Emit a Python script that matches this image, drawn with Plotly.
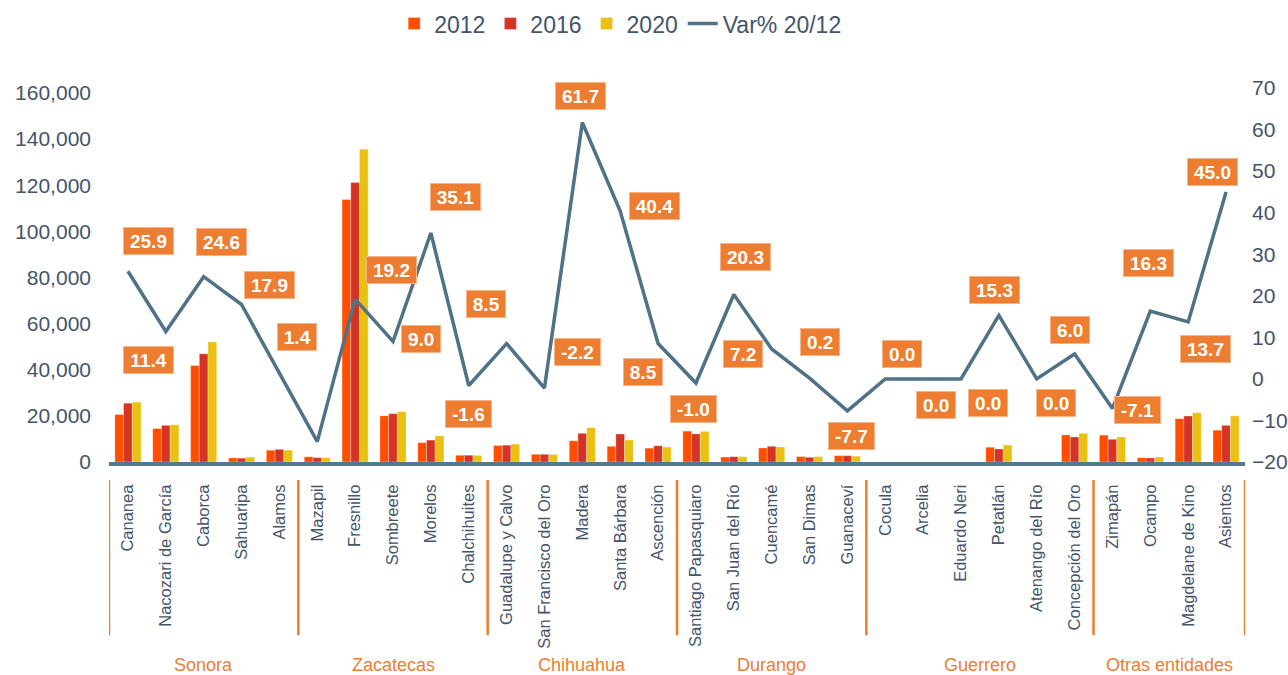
import plotly.graph_objects as go

# Municipalities grouped by state
states = ["Sonora", "Zacatecas", "Chihuahua", "Durango", "Guerrero", "Otras entidades"]
municipios = [
    ["Cananea", "Nacozari de García", "Caborca", "Sahuaripa", "Alamos"],
    ["Mazapil", "Fresnillo", "Sombreete", "Morelos", "Chalchihuites"],
    ["Guadalupe y Calvo", "San Francisco del Oro", "Madera", "Santa Bárbara", "Ascención"],
    ["Santiago Papasquiaro", "San Juan del Río", "Cuencamé", "San Dimas", "Guanaceví"],
    ["Cocula", "Arcelia", "Eduardo Neri", "Petatlán", "Atenango del Río", "Concepción del Oro"],
    ["Zimapán", "Ocampo", "Magdelane de Kino", "Asientos"],
]
categories = [m for grp in municipios for m in grp]

v2012 = [20600, 14500, 41800, 1800, 5100,
         2250, 113800, 20000, 8400, 2900,
         7150, 3350, 9200, 6800, 6000,
         13400, 2150, 6070, 2350, 2750,
         0, 0, 0, 6400, 0, 11750,
         11650, 1850, 18800, 13800]
v2016 = [25500, 15900, 46900, 1650, 5500,
         1900, 121200, 20950, 9500, 2950,
         7300, 3350, 12450, 12150, 7050,
         12200, 2300, 6800, 2050, 2740,
         0, 0, 0, 5650, 0, 10850,
         9850, 1750, 19950, 15900]
v2020 = [25950, 16150, 52080, 2120, 5170,
         1910, 135650, 21800, 11350, 2850,
         7760, 3280, 14880, 9550, 6510,
         13270, 2300, 6500, 2355, 2540,
         0, 0, 0, 7380, 0, 12450,
         10830, 2150, 21380, 20010]
var_pct = [25.9, 11.4, 24.6, 17.9, 1.4,
           -15.1, 19.2, 9.0, 35.1, -1.6,
           8.5, -2.2, 61.7, 40.4, 8.5,
           -1.0, 20.3, 7.2, 0.2, -7.7,
           0.0, 0.0, 0.0, 15.3, 0.0, 6.0,
           -7.1, 16.3, 13.7, 45.0]

left_ticks = [0, 20000, 40000, 60000, 80000, 100000, 120000, 140000, 160000]
right_ticks = [-20, -10, 0, 10, 20, 30, 40, 50, 60, 70]

# label placement relative to each point of the line (pixels: right, down); None = no label
label_offsets = [(21, -30), (-17, 28), (18, -35), (28, -20), (18, -36),
                 None, (36, -29), (28, -2), (25, -36), (0, 28),
                 (-21, -40), (33, -36), (-2, -26), (34, -5), (-15, 28),
                 (-2, 26), (12, -38), (-29, 5), (10, -36), (4, 25),
                 (17, -25), (13, 26), (27, 24), (-4, -25), (19, 24), (-5, -24),
                 (25, 2), (-2, -48), (17, 27), (-14, -20)]

C2012, C2016, C2020 = "#FF4E00", "#D53424", "#EAC112"
LINE = "#4F7286"
TEXT = "#44546A"
ORANGE = "#ED7D31"
FONT = "Liberation Sans, Arial, sans-serif"

fig = go.Figure()
for name, vals, col in [("2012", v2012, C2012), ("2016", v2016, C2016), ("2020", v2020, C2020)]:
    fig.add_trace(go.Bar(x=categories, y=vals, name=name, marker_color=col,
                         marker_line=dict(color="rgba(255,255,255,0.5)", width=0.6)))
fig.add_trace(go.Scatter(x=categories, y=var_pct, name="Var% 20/12", yaxis="y2",
                         mode="lines", line=dict(color=LINE, width=3.5)))


def text_width(s, size):
    w = {".": 0.278, "-": 0.333}
    return sum(w.get(ch, 0.556) for ch in s) * size


annotations = []
for cat, v, off in zip(categories, var_pct, label_offsets):
    if off is None:
        continue
    txt = f"{v:.1f}"
    annotations.append(dict(
        x=cat, y=v, xref="x", yref="y2", text=f"<b>{txt}</b>", showarrow=False,
        xshift=off[0], yshift=-off[1],
        font=dict(family=FONT, size=19, color="white"),
        bgcolor=ORANGE, bordercolor="#F5B48A", borderwidth=1, borderpad=2,
        width=text_width(txt, 19) + 8, height=22,
    ))

# state separators and state names under the category labels
shapes = []
start = 0
bounds = [-0.5]
for st, grp in zip(states, municipios):
    n = len(grp)
    annotations.append(dict(
        x=start + (n - 1) / 2, y=-0.543, xref="x", yref="paper", text=st,
        showarrow=False, font=dict(family=FONT, size=18, color=ORANGE),
        yanchor="middle"))
    start += n
    bounds.append(start - 0.5)
for b in bounds:
    shapes.append(dict(type="line", xref="x", yref="paper", x0=b, x1=b,
                       y0=-0.048, y1=-0.463, line=dict(color=ORANGE, width=2.5)))

fig.update_layout(
    width=1288, height=675,
    margin=dict(l=109, r=43, t=88, b=213, autoexpand=False),
    paper_bgcolor="white", plot_bgcolor="white",
    barmode="group", bargap=0.31, bargroupgap=0,
    font=dict(family=FONT, color=TEXT),
    legend=dict(orientation="h", x=0.45, xanchor="center", y=1.172, yanchor="middle",
                font=dict(size=23, color=TEXT), traceorder="normal", itemwidth=30),
    xaxis=dict(range=[-0.5, len(categories) - 0.5], tickangle=-90, automargin=False,
               tickfont=dict(size=16.5, color=TEXT), showline=True, linecolor="#56788C",
               linewidth=4, showgrid=False, ticks="", ticklabelstandoff=12),
    yaxis=dict(range=[0, 162170], tickvals=left_ticks, tickformat=",", showgrid=False,
               automargin=False, zeroline=False, tickfont=dict(size=21, color=TEXT),
               ticklabelstandoff=17),
    yaxis2=dict(range=[-20, 70], tickvals=right_ticks, overlaying="y", side="right",
                automargin=False, showgrid=False, zeroline=False,
                tickfont=dict(size=21, color=TEXT), ticklabelstandoff=6),
    annotations=annotations,
    shapes=shapes,
)

fig.write_html("out.html")
